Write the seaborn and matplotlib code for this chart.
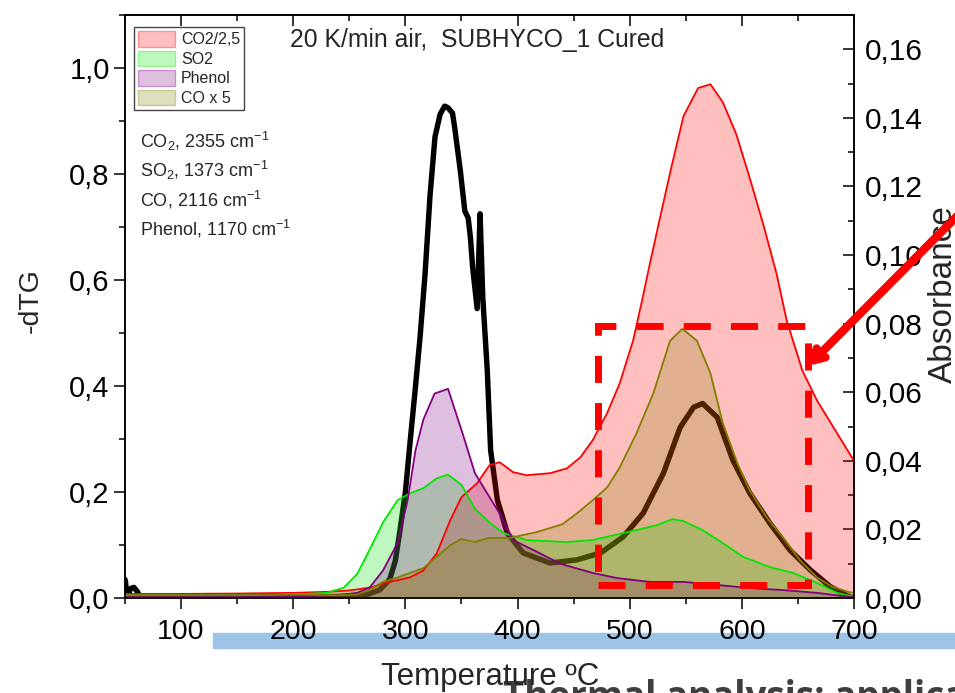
import matplotlib
matplotlib.use("Agg")
import matplotlib.pyplot as plt
from matplotlib import font_manager
from matplotlib.patches import Patch, Rectangle
from matplotlib.colors import to_rgba
import seaborn as sns

# ---- -dTG curve (left axis) ----
temp_dtg = [50, 50.5, 51.5, 53, 55, 58, 61, 63, 70, 100, 150, 200, 240, 265, 277, 286,
            291, 295, 300, 304, 308.6, 313, 317.5, 322, 326.4, 331, 335, 338, 342, 344,
            349, 353, 356, 358, 360, 364, 366.6, 369, 373, 376, 382, 391, 405, 429, 453,
            474, 494, 512, 530, 545, 557, 565, 578, 592, 607, 625, 643, 661, 679, 696, 700]
dtg = [0.035, 0.03, 0.004, 0.006, 0.018, 0.02, 0.012, 0.004, 0.003, 0.003, 0.002, 0.002,
       0.003, 0.006, 0.015, 0.035, 0.07, 0.125, 0.2, 0.29, 0.39, 0.49, 0.61, 0.76, 0.87,
       0.913, 0.928, 0.925, 0.915, 0.887, 0.806, 0.73, 0.717, 0.68, 0.623, 0.546, 0.725,
       0.567, 0.43, 0.279, 0.185, 0.122, 0.085, 0.066, 0.072, 0.085, 0.115, 0.16, 0.235,
       0.322, 0.36, 0.367, 0.341, 0.26, 0.198, 0.141, 0.09, 0.053, 0.021, 0.002, 0.0]

# ---- FTIR absorbance profiles (right axis) ----
temp_co2 = [50, 100, 150, 200, 230, 250, 268, 286, 304, 316, 328, 340, 350, 364, 375, 384,
            396, 408, 429, 444, 456, 467, 480, 491, 503, 511, 518, 527, 537, 548, 561, 572,
            583, 595, 607, 619, 631, 640, 654, 667, 685, 700]
co2 = [0.0012, 0.0012, 0.0013, 0.0015, 0.0018, 0.0022, 0.003, 0.0047, 0.006, 0.008, 0.013,
       0.0227, 0.0294, 0.0335, 0.0387, 0.0396, 0.0367, 0.0358, 0.0364, 0.0378, 0.041, 0.046,
       0.054, 0.0625, 0.075, 0.0867, 0.0975, 0.1108, 0.1254, 0.1405, 0.1487, 0.1498, 0.1446,
       0.1353, 0.1225, 0.1091, 0.0945, 0.0809, 0.0663, 0.0576, 0.048, 0.040]

temp_so2 = [50, 100, 150, 200, 230, 245, 257, 268, 280, 293, 304, 316, 328, 338, 350, 362,
            375, 387, 408, 444, 467, 494, 524, 538, 548, 565, 583, 601, 625, 646, 667, 685, 700]
so2 = [0.0008, 0.0008, 0.0008, 0.001, 0.0015, 0.003, 0.007, 0.014, 0.022, 0.0285, 0.0305,
       0.032, 0.0349, 0.036, 0.033, 0.026, 0.022, 0.019, 0.0169, 0.0163, 0.0169, 0.0189,
       0.0212, 0.023, 0.0224, 0.0198, 0.016, 0.012, 0.009, 0.0073, 0.0044, 0.0015, 0.0003]

temp_phenol = [50, 100, 150, 200, 240, 257, 268, 280, 293, 302, 309, 316, 326, 338, 351,
               362, 373, 384, 396, 414, 438, 467, 489, 518, 548, 578, 607, 637, 667, 696, 700]
phenol = [0.0005, 0.0005, 0.0004, 0.0005, 0.0008, 0.0015, 0.003, 0.008, 0.016, 0.0285,
          0.043, 0.052, 0.0596, 0.061, 0.048, 0.0364, 0.0305, 0.0247, 0.0169, 0.014, 0.010,
          0.0073, 0.0058, 0.0047, 0.0047, 0.0038, 0.0029, 0.0023, 0.0015, 0.0003, 0.0002]

temp_co = [50, 100, 150, 200, 240, 257, 268, 280, 293, 304, 316, 328, 340, 350, 362, 374,
           393, 417, 440, 453, 467, 480, 491, 506, 521, 536, 547, 560, 572, 583, 596, 607,
           622, 637, 652, 667, 681, 696, 700]
co_x5 = [0.0008, 0.0008, 0.0008, 0.001, 0.0008, 0.001, 0.0023, 0.0047, 0.006, 0.0073,
         0.0087, 0.012, 0.0154, 0.0172, 0.0163, 0.0175, 0.0175, 0.0192, 0.0215, 0.0247,
         0.0285, 0.0323, 0.038, 0.048, 0.0596, 0.075, 0.0785, 0.075, 0.0655, 0.051, 0.0393,
         0.0314, 0.0236, 0.0175, 0.011, 0.006, 0.0032, 0.0017, 0.0015]

series_labels = ["CO2/2,5", "SO2", "Phenol", "CO x 5"]
series_colors = ["#FF0000", "#00E600", "#800080", "#808000"]

x_ticks = [100, 200, 300, 400, 500, 600, 700]
x_tick_labels = ["100", "200", "300", "400", "500", "600", "700"]
left_ticks = [0.0, 0.2, 0.4, 0.6, 0.8, 1.0]
left_tick_labels = ["0,0", "0,2", "0,4", "0,6", "0,8", "1,0"]
right_ticks = [0.00, 0.02, 0.04, 0.06, 0.08, 0.10, 0.12, 0.14, 0.16]
right_tick_labels = ["0,00", "0,02", "0,04", "0,06", "0,08", "0,10", "0,12", "0,14", "0,16"]

band_notes = [r"CO$_2$, 2355 cm$^{-1}$", r"SO$_2$, 1373 cm$^{-1}$",
              r"CO, 2116 cm$^{-1}$", r"Phenol, 1170 cm$^{-1}$"]

# ---- style ----
sns.set_theme(style="ticks")
installed = {f.name for f in font_manager.fontManager.ttflist}
base_font = "Liberation Sans" if "Liberation Sans" in installed else "DejaVu Sans"
narrow_font = "Liberation Sans Narrow" if "Liberation Sans Narrow" in installed else base_font
plt.rcParams["font.family"] = [base_font, "DejaVu Sans"]
plt.rcParams["mathtext.fontset"] = "custom"
plt.rcParams["mathtext.rm"] = base_font
plt.rcParams["mathtext.it"] = base_font + ":italic"
plt.rcParams["mathtext.bf"] = base_font + ":bold"
plt.rcParams["axes.edgecolor"] = "black"
plt.rcParams["axes.linewidth"] = 1.1
plt.rcParams["xtick.color"] = "black"
plt.rcParams["ytick.color"] = "black"

W, H = 955, 693
fig = plt.figure(figsize=(W / 100, H / 100), dpi=100)
L, R, T, B = 125, 854, 15, 598
ax = fig.add_axes([L / W, 1 - B / H, (R - L) / W, (B - T) / H])
ax2 = ax.twinx()

# -dTG line sits underneath the translucent gas profiles
sns.lineplot(x=temp_dtg, y=dtg, ax=ax, color="black", lw=3.9, sort=False,
             estimator=None, solid_joinstyle="round", solid_capstyle="round")

profiles = [(temp_co2, co2), (temp_so2, so2), (temp_phenol, phenol), (temp_co, co_x5)]
for (tx, vals), col in zip(profiles, series_colors):
    ax2.fill_between(tx, 0, vals, color=col, alpha=0.25, lw=0)
for (tx, vals), col in zip(profiles, series_colors):
    sns.lineplot(x=tx, y=vals, ax=ax2, color=col, lw=1.3, sort=False, estimator=None)

ax.set_xlim(50, 700)
ax.set_ylim(0, 1.1)
ax2.set_ylim(0, 0.17)

# ticks
ax.set_xticks(x_ticks)
ax.set_xticklabels(x_tick_labels, fontfamily=narrow_font, fontsize=20.5)
ax.set_xticks(list(range(50, 701, 50)), minor=True)
ax.set_yticks(left_ticks)
ax.set_yticklabels(left_tick_labels, fontsize=21)
ax.set_yticks([0.1, 0.3, 0.5, 0.7, 0.9, 1.1], minor=True)
ax2.set_yticks(right_ticks)
ax2.set_yticklabels(right_tick_labels, fontsize=21.5)
ax2.set_yticks([i / 100 for i in range(0, 18)], minor=True)

ax.tick_params(axis="x", which="major", direction="out", length=8, width=1.1, pad=7)
ax.tick_params(axis="x", which="minor", direction="out", length=4.5, width=1.1)
ax.tick_params(axis="y", which="major", direction="out", length=8, width=1.1, pad=3,
               left=True, right=False)
ax.tick_params(axis="y", which="minor", direction="out", length=4.5, width=1.1,
               left=True, right=False)
ax2.tick_params(axis="y", which="major", direction="in", length=8, width=1.1, pad=8,
                left=False, right=True)
ax2.tick_params(axis="y", which="minor", direction="in", length=4.5, width=1.1,
                left=False, right=True)

top = ax.secondary_xaxis("top")
top.set_xticks(x_ticks)
top.set_xticks(list(range(50, 701, 50)), minor=True)
top.tick_params(axis="x", which="major", direction="in", length=8, width=1.1, labeltop=False)
top.tick_params(axis="x", which="minor", direction="in", length=4.5, width=1.1)

for a in (ax, ax2):
    for s in a.spines.values():
        s.set_visible(True)
        s.set_color("black")
        s.set_linewidth(1.1)

# axis labels
ax.set_xlabel("Temperature ºC", fontfamily=narrow_font, fontsize=22.5)
ax.xaxis.set_label_coords(0.5007, -0.110)
ax.set_ylabel("-dTG", fontsize=20.5)
ax.yaxis.set_label_coords(-0.111, 0.511)
ax2.set_ylabel("Absorbance", fontsize=24)
ax2.yaxis.set_label_coords(1.1015, 0.522)

# title and band assignments
ax.text(0.2263, 0.957, "20 K/min air,  SUBHYCO_1 Cured", transform=ax.transAxes,
        fontsize=17.8, ha="left", va="center")
for i, note in enumerate(band_notes):
    ax.text(0.0206, (B - (148 + 29 * i)) / (B - T), note, transform=ax.transAxes,
            fontsize=13, ha="left", va="baseline")

# legend
handles = [Patch(facecolor=to_rgba(c, 0.25), edgecolor=to_rgba(c, 0.35), lw=1)
           for c in series_colors]
leg = ax2.legend(handles, series_labels, loc="upper left",
                 bbox_to_anchor=((134 - L) / (R - L), (B - 27) / (B - T)),
                 fontsize=11.5, frameon=True, fancybox=False, framealpha=1,
                 edgecolor="#444444", borderpad=0.25, labelspacing=0.2,
                 handlelength=2.3, handleheight=1.15, handletextpad=0.4,
                 borderaxespad=0)
leg.get_frame().set_linewidth(1.0)

# highlighted region and pointer
ax2.add_patch(Rectangle((471.8, 0.0038), 659 - 471.8, 0.0794 - 0.0038, fill=False,
                        ec="#FF0000", lw=5, ls=(0, (3.9, 2.9)), clip_on=False, zorder=10))
ax2.annotate("", xy=(808 / W, 1 - 366 / H), xycoords="figure fraction",
             xytext=(985 / W, 1 - 188 / H), textcoords="figure fraction",
             arrowprops=dict(arrowstyle="->,head_length=0.25,head_width=0.15",
                             color="#FF0000", lw=6, mutation_scale=30,
                             shrinkA=0, shrinkB=0),
             annotation_clip=False, zorder=11)

# slide decorations below the axes
fig.patches.append(Rectangle((213 / W, 1 - 648 / H), (W - 213) / W, 15 / H,
                             transform=fig.transFigure, color="#9DC3E6", zorder=-1))
fig.text(503 / W, 1 - 679 / H, "Thermal analysis: applications", fontsize=26.5,
         fontweight="bold", family=["Open Sans", "DejaVu Sans"], color="#3F3F3F",
         ha="left", va="top", zorder=-0.5)

fig.savefig("out.png", dpi=100)
